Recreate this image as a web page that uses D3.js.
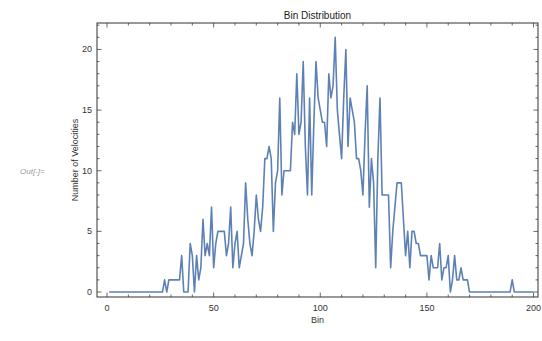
<!DOCTYPE html>
<html>
<head>
<meta charset="utf-8">
<script src="https://cdn.jsdelivr.net/npm/d3@7"></script>
<style>
  body { margin: 0; background: #fff; }
  svg { display: block; font-family: "Liberation Sans", Arial, sans-serif; }
</style>
</head>
<body>
<div id="chart"></div>
<script>
// counts per bin, bins 1..200
const counts = [
  0,0,0,0,0,0,0,0,0,0, 0,0,0,0,0,0,0,0,0,0,           // 1-20
  0,0,0,0,0,0,1,0,1,1, 1,1,1,1,3,0,0,0,4,3,           // 21-40
  0,3,1,2,6,3,4,3,7,2, 4,5,5,5,5,3,4,7,2,4,           // 41-60
  5,2,3,4,9,6,4,3,5,8, 6,5,7,11,11,12,11,5,9,10,      // 61-80
  16,8,10,10,10,10,14,13,18,13, 14,19,12,8,16,8,14,19,16,15, // 81-100
  14,14,12,18,16,17,21,15,13,11, 16,20,12,16,15,14,11,11,10,8, // 101-120
  13,17,7,11,9,2,11,16,8,8, 8,8,2,5,7,9,9,9,6,3,       // 121-140
  5,2,5,5,4,4,3,3,3,3, 1,3,2,2,2,4,1,2,2,3,           // 141-160
  0,1,3,1,1,2,1,1,1,0, 0,0,0,0,0,0,0,0,0,0,           // 161-180
  0,0,0,0,0,0,0,0,0,1, 0,0,0,0,0,0,0,0,0,0            // 181-200
];
const bins = counts.map((_, i) => i + 1);
const xTicks = [0, 50, 100, 150, 200];
const yTicks = [0, 5, 10, 15, 20];

const width = 542, height = 341;
const margin = { top: 23, right: 4, bottom: 44, left: 97 };
const lineColor = '#5e81b5';

const svg = d3.select('#chart').append('svg')
  .attr('width', width)
  .attr('height', height);

const x = d3.scaleLinear()
  .domain([-4.7, 202.1])
  .range([margin.left, width - margin.right]);

const y = d3.scaleLinear()
  .domain([-0.41, 22.18])
  .range([height - margin.bottom, margin.top]);

const x0 = margin.left, x1 = width - margin.right;
const y0 = height - margin.bottom, y1 = margin.top;

// minor / major ticks, all pointing inward like a Mathematica frame
const xMinor = d3.range(0, 201, 10).filter(v => !xTicks.includes(v));
const yMinor = d3.range(0, 23, 1).filter(v => !yTicks.includes(v));
const tickG = svg.append('g').attr('stroke', '#444').attr('stroke-width', 0.8);

function xTick(v, len) {
  tickG.append('line').attr('x1', x(v)).attr('x2', x(v)).attr('y1', y0).attr('y2', y0 - len);
  tickG.append('line').attr('x1', x(v)).attr('x2', x(v)).attr('y1', y1).attr('y2', y1 + len);
}
function yTick(v, len) {
  tickG.append('line').attr('y1', y(v)).attr('y2', y(v)).attr('x1', x0).attr('x2', x0 + len);
  tickG.append('line').attr('y1', y(v)).attr('y2', y(v)).attr('x1', x1).attr('x2', x1 - len);
}
xTicks.forEach(v => xTick(v, 4.5));
xMinor.forEach(v => xTick(v, 2.5));
yTicks.forEach(v => yTick(v, 4.5));
yMinor.forEach(v => yTick(v, 2.5));

// frame
svg.append('rect')
  .attr('x', x0).attr('y', y1)
  .attr('width', x1 - x0).attr('height', y0 - y1)
  .attr('fill', 'none').attr('stroke', '#333').attr('stroke-width', 1);

// tick labels
svg.append('g').selectAll('text')
  .data(xTicks).enter().append('text')
  .attr('x', d => x(d)).attr('y', y0 + 14)
  .attr('text-anchor', 'middle')
  .attr('font-size', 9).attr('fill', '#333')
  .text(d => d);

svg.append('g').selectAll('text')
  .data(yTicks).enter().append('text')
  .attr('x', x0 - 5).attr('y', d => y(d) + 3)
  .attr('text-anchor', 'end')
  .attr('font-size', 9).attr('fill', '#333')
  .text(d => d);

// the series
const line = d3.line()
  .x((d, i) => x(bins[i]))
  .y(d => y(d));

svg.append('path')
  .datum(counts)
  .attr('d', line)
  .attr('fill', 'none')
  .attr('stroke', lineColor)
  .attr('stroke-width', 1.6)
  .attr('stroke-linejoin', 'round');

// labels
svg.append('text')
  .attr('x', (x0 + x1) / 2).attr('y', 19)
  .attr('text-anchor', 'middle')
  .attr('font-size', 10).attr('fill', '#222')
  .text('Bin Distribution');

svg.append('text')
  .attr('x', (x0 + x1) / 2).attr('y', 323)
  .attr('text-anchor', 'middle')
  .attr('font-size', 9).attr('fill', '#333')
  .text('Bin');

svg.append('text')
  .attr('transform', `translate(78, ${(y0 + y1) / 2}) rotate(-90)`)
  .attr('text-anchor', 'middle')
  .attr('font-size', 9).attr('fill', '#333')
  .text('Number of Velocities');

svg.append('text')
  .attr('x', 20).attr('y', 174)
  .attr('font-size', 8).attr('font-style', 'italic')
  .attr('fill', '#999')
  .text('Out[-]=');
</script>
</body>
</html>
